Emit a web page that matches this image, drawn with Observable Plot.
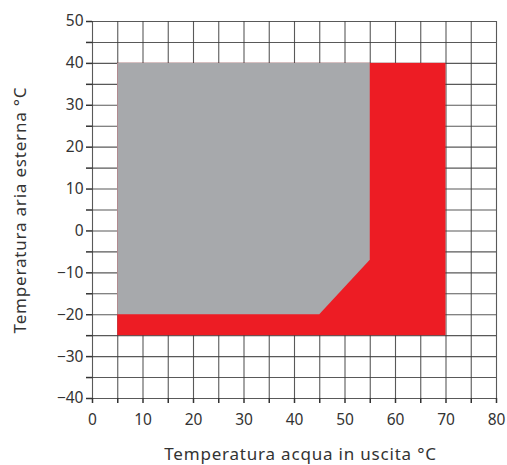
<!DOCTYPE html>
<html>
<head>
<meta charset="utf-8">
<script src="https://cdn.jsdelivr.net/npm/d3@7"></script>
<script src="https://cdn.jsdelivr.net/npm/@observablehq/plot@0.6"></script>
<style>
  html, body { margin: 0; padding: 0; background: #fff; }
  #chart { width: 507px; height: 465px; }
</style>
</head>
<body>
<div id="chart"></div>
<script>
// Data
const xGrid = [0,5,10,15,20,25,30,35,40,45,50,55,60,65,70,75,80];
const yGrid = [-40,-35,-30,-25,-20,-15,-10,-5,0,5,10,15,20,25,30,35,40,45,50];
// Red envelope (extended operating range)
const redX = [5, 70];
const redY = [-25, 40];
// Grey envelope (standard operating range): lower boundary vs x, top at 40
const greyX = [5, 45, 55];
const greyYLow = [-20, -20, -7];
const greyYTop = [40, 40, 40];

const greyData = greyX.map((x, i) => ({x, y1: greyYLow[i], y2: greyYTop[i]}));
const redData = [{x1: redX[0], x2: redX[1], y1: redY[0], y2: redY[1]}];

const gridColor = "#3c3c3c";
const font = "'Noto Sans', 'Open Sans', sans-serif";

const chart = Plot.plot({
  width: 507,
  height: 465,
  marginLeft: 92,
  marginRight: 11,
  marginTop: 21,
  marginBottom: 67,
  style: {fontFamily: font, fontSize: "15px", color: "#333", background: "#fff"},
  x: {domain: [0, 80]},
  y: {domain: [-40, 50]},
  marks: [
    Plot.ruleX(xGrid, {stroke: gridColor, strokeWidth: 1.1, strokeOpacity: 0.85}),
    Plot.ruleY(yGrid, {stroke: gridColor, strokeWidth: 1.1, strokeOpacity: 0.85}),
    Plot.rect(redData, {x1: "x1", x2: "x2", y1: "y1", y2: "y2", fill: "#ed1c24"}),
    Plot.areaY(greyData, {x: "x", y1: "y1", y2: "y2", fill: "#a7a9ac", curve: "linear"}),
    Plot.axisX({
      ticks: xGrid,
      tickFormat: d => d % 10 === 0 ? String(d) : "",
      tickSize: 5,
      tickPadding: 10,
      stroke: "#333",
      strokeWidth: 1.5,
      fill: "#333",
      fontSize: 15.5,
      label: null
    }),
    Plot.axisY({
      ticks: yGrid,
      tickFormat: d => d % 10 === 0 ? (d < 0 ? "\u2212" + Math.abs(d) : String(d)) : "",
      tickSize: 6,
      tickPadding: 3,
      stroke: "#333",
      strokeWidth: 1.5,
      fill: "#333",
      fontSize: 15.5,
      label: null
    }),
    Plot.text(["Temperatura acqua in uscita °C"], {
      frameAnchor: "bottom",
      dy: 61,
      dx: 6,
      fontSize: 17,
      fill: "#333",
      lineAnchor: "bottom"
    }),
    Plot.text(["Temperatura aria esterna °C"], {
      frameAnchor: "left",
      textAnchor: "middle",
      dx: -72,
      rotate: -90,
      fontSize: 17,
      fill: "#333"
    })
  ]
});
chart.querySelectorAll("text").forEach(t => {
  if (t.textContent.startsWith("Temperatura")) t.setAttribute("letter-spacing", "0.8");
});
document.getElementById("chart").appendChild(chart);
</script>
</body>
</html>
